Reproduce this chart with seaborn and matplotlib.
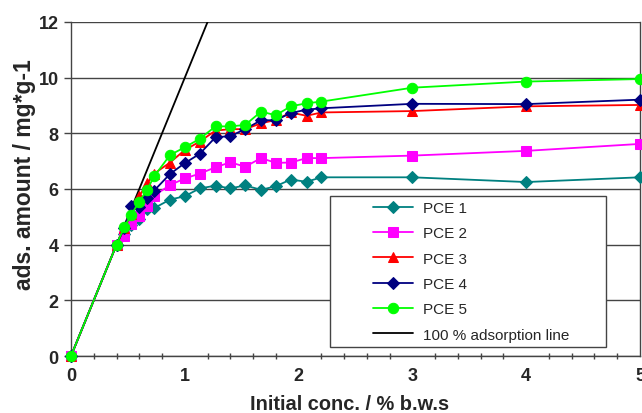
import matplotlib
matplotlib.use("Agg")
import matplotlib.pyplot as plt
import seaborn as sns
import numpy as np
import pandas as pd
from matplotlib.ticker import MultipleLocator
from matplotlib.patches import Rectangle

# ---- data ----
conc = [0, 0.4, 0.47, 0.53, 0.6, 0.67, 0.73, 0.87, 1.0, 1.13, 1.27, 1.4, 1.53,
        1.67, 1.8, 1.93, 2.07, 2.2, 3.0, 4.0, 5.0]
pce1 = [0, 4.0, 4.4, 4.7, 4.92, 5.28, 5.31, 5.62, 5.74, 6.02, 6.12, 6.02, 6.13,
        5.97, 6.1, 6.34, 6.26, 6.42, 6.42, 6.25, 6.42]
pce2 = [0, 4.0, 4.32, 4.74, 5.02, 5.4, 5.76, 6.14, 6.38, 6.55, 6.78, 6.96, 6.8,
        7.11, 6.94, 6.95, 7.11, 7.11, 7.2, 7.37, 7.62]
pce3 = [0, 4.0, 4.6, 5.1, 5.75, 6.2, 6.55, 6.95, 7.4, 7.7, 8.1, 8.15, 8.15,
        8.36, 8.48, 8.75, 8.63, 8.75, 8.8, 8.97, 9.02]
pce4 = [0, 4.0, 4.6, 5.38, 5.35, 5.67, 5.94, 6.54, 6.93, 7.26, 7.86, 7.9, 8.15,
        8.47, 8.47, 8.73, 8.85, 8.9, 9.06, 9.05, 9.21]
pce5 = [0, 4.0, 4.65, 5.08, 5.55, 5.98, 6.45, 7.22, 7.5, 7.8, 8.25, 8.25, 8.3,
        8.78, 8.65, 8.97, 9.08, 9.14, 9.64, 9.86, 9.95]
ads_x = [0, 1.2]
ads_y = [0, 12]

series_names = ["PCE 1", "PCE 2", "PCE 3", "PCE 4", "PCE 5"]
series_vals = [pce1, pce2, pce3, pce4, pce5]
colors = ["#008080", "#FF00FF", "#FF0000", "#000080", "#00FF00"]
markers = ["D", "s", "^", "D", "o"]
msizes = [6, 6.5, 7.5, 6, 7.5]

sns.set_style("white")
plt.rcParams["font.family"] = ["Liberation Sans", "DejaVu Sans"]

fig = plt.figure(figsize=(6.42, 4.14), dpi=100)
ax = fig.add_axes([71 / 642, 1 - 357 / 414, (640 - 71) / 642, (357 - 23) / 414])

for name, vals, c, m, ms in zip(series_names, series_vals, colors, markers, msizes):
    df = pd.DataFrame({"x": conc, "y": vals})
    sns.lineplot(data=df, x="x", y="y", ax=ax, color=c, marker=m,
                 markersize=ms, markeredgecolor=c, linewidth=1.3,
                 label=name, sort=False, estimator=None, clip_on=False, zorder=3)

sns.lineplot(x=ads_x, y=ads_y, ax=ax, color="black", linewidth=1.3,
             label="100 % adsorption line", sort=False, estimator=None, zorder=2)

ax.set_xlim(0, 5)
ax.set_ylim(0, 12)
ax.xaxis.set_major_locator(MultipleLocator(1))
ax.xaxis.set_minor_locator(MultipleLocator(0.2))
ax.yaxis.set_major_locator(MultipleLocator(2))

ax.grid(axis="y", color="#444444", linewidth=1.0)
ax.grid(axis="x", visible=False)
ax.set_axisbelow(True)

for sp in ax.spines.values():
    sp.set_color("#444444")
    sp.set_linewidth(1.0)
ax.spines["top"].set_visible(False)

ax.tick_params(axis="x", which="major", direction="inout", length=8, width=1,
               color="#444444", pad=4)
ax.tick_params(axis="x", which="minor", direction="inout", length=5, width=1,
               color="#444444", bottom=True)
ax.tick_params(axis="y", which="major", direction="out", length=5, width=1,
               color="#444444", left=True, pad=4)

for lab in ax.get_xticklabels() + ax.get_yticklabels():
    lab.set_fontweight("bold")
    lab.set_fontsize(13)

ax.set_xlabel("Initial conc. / % b.w.s", fontsize=14.4, fontweight="bold")
ax.xaxis.set_label_coords((350 - 71) / 569, (357 - 395) / 334)
ax.set_ylabel("ads. amount / mg*g-1", fontsize=16.5, fontweight="bold")
ax.yaxis.set_label_coords((36 - 71) / 569, (357 - 175) / 334)

# legend frame (wider than the legend content, as in the reference)
ax.add_patch(Rectangle(((330 - 71) / 569, (357 - 348) / 334), 276 / 569, 151 / 334,
                       transform=ax.transAxes, facecolor="white",
                       edgecolor="#444444", linewidth=1.0, zorder=4, clip_on=False))
leg = ax.legend(loc="upper left", bbox_to_anchor=((373 - 71) / 569, (357 - 202) / 334),
                frameon=False, fontsize=11, handlelength=2.6, borderpad=0,
                labelspacing=0.74, borderaxespad=0, handletextpad=0.65)
leg.set_zorder(5)

fig.savefig("out.png", dpi=100)
